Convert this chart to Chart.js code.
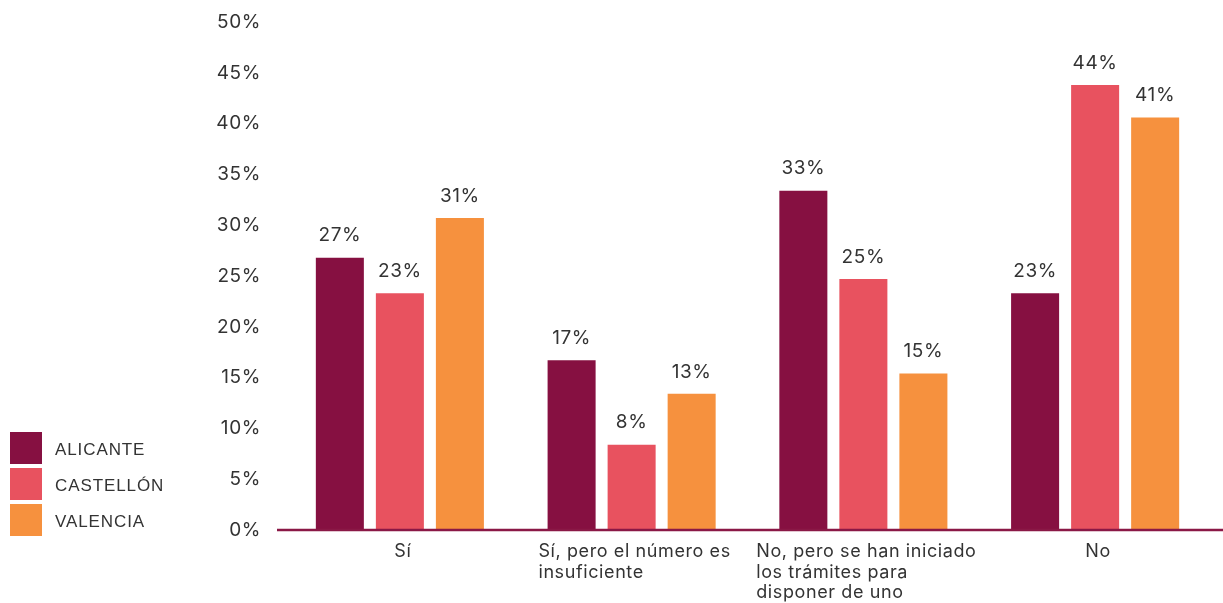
<!DOCTYPE html>
<html lang="es">
<head>
<meta charset="utf-8">
<title>Encuesta por provincia</title>
<script src="https://cdn.jsdelivr.net/npm/chart.js@4.4.1/dist/chart.umd.min.js"></script>
<style>
    html, body { margin: 0; padding: 0; background: #fff; }
    #wrap { position: relative; width: 1223px; height: 603px; }
    #legend { position: absolute; left: 10px; top: 432px; font-family: "Liberation Sans", Arial, sans-serif; font-size: 17px; color: #333; letter-spacing: 0.9px; }
    #legend .item { display: flex; align-items: center; height: 32px; margin-bottom: 4px; }
    #legend .box { width: 32px; height: 32px; margin-right: 13px; }
    #legend .txt { padding-top: 4px; }
</style>
</head>
<body>
<div id="wrap">
    <canvas id="surveyChart" width="1223" height="603"></canvas>
    <div id="legend"></div>
</div>
<script>
const categories = [
    ['Sí'],
    ['Sí, pero el número es', 'insuficiente'],
    ['No, pero se han iniciado', 'los trámites para', 'disponer de uno'],
    ['No']
];
const alicante = [26.8, 16.7, 33.4, 23.3];
const castellon = [23.3, 8.4, 24.7, 43.8];
const valencia = [30.7, 13.4, 15.4, 40.6];
const yTicks = [0, 5, 10, 15, 20, 25, 30, 35, 40, 45, 50];

const FONT = 'Inter, "Open Sans", sans-serif';
const TEXT = '#333333';

// slightly tracked-out text for everything on the canvas
const tracking = {
    id: 'tracking',
    beforeDraw(chart) { chart.ctx.letterSpacing = '0.6px'; }
};

// value labels above each bar
const barLabels = {
    id: 'barLabels',
    afterDatasetsDraw(chart) {
        const ctx = chart.ctx;
        ctx.save();
        ctx.font = '19px ' + FONT;
        ctx.fillStyle = TEXT;
        ctx.textAlign = 'center';
        ctx.textBaseline = 'middle';
        chart.data.datasets.forEach((ds, i) => {
            chart.getDatasetMeta(i).data.forEach((bar, j) => {
                ctx.fillText(Math.round(ds.data[j]) + '%', bar.x, bar.y - 22);
            });
        });
        ctx.restore();
    }
};

// baseline and multi-line category labels (lines left aligned, block centred)
const categoryAxis = {
    id: 'categoryAxis',
    afterDraw(chart) {
        const ctx = chart.ctx;
        const x = chart.scales.x;
        const y0 = chart.scales.y.getPixelForValue(0);
        ctx.save();
        ctx.strokeStyle = '#8a1846';
        ctx.lineWidth = 2.5;
        ctx.beginPath();
        ctx.moveTo(chart.chartArea.left - 7, y0);
        ctx.lineTo(chart.width, y0);
        ctx.stroke();

        ctx.font = '18px ' + FONT;
        ctx.fillStyle = TEXT;
        ctx.textAlign = 'left';
        ctx.textBaseline = 'middle';
        categories.forEach((lines, i) => {
            const cx = x.getPixelForValue(i);
            const w = Math.max(...lines.map(l => ctx.measureText(l).width));
            lines.forEach((line, k) => {
                ctx.fillText(line, cx - w / 2 + 3, y0 + 22 + k * 20.5);
            });
        });
        ctx.restore();
    }
};

const datasets = [
    { label: 'ALICANTE', data: alicante, backgroundColor: '#861041' },
    { label: 'CASTELLÓN', data: castellon, backgroundColor: '#e8525f' },
    { label: 'VALENCIA', data: valencia, backgroundColor: '#f6913e' }
];

new Chart(document.getElementById('surveyChart'), {
    type: 'bar',
    data: {
        labels: categories.map(c => c.join(' ')),
        datasets: datasets.map(d => Object.assign({ barPercentage: 0.8, categoryPercentage: 0.777 }, d))
    },
    options: {
        responsive: false,
        animation: false,
        layout: { padding: { left: 207, right: 12, top: 22, bottom: 0 } },
        plugins: {
            legend: { display: false },
            tooltip: { enabled: false }
        },
        scales: {
            x: {
                grid: { display: false },
                border: { display: false },
                ticks: { display: false },
                afterFit(scale) { scale.height = 73; }
            },
            y: {
                min: 0,
                max: 50,
                afterBuildTicks(scale) { scale.ticks = yTicks.map(v => ({ value: v })); },
                afterFit(scale) {
                    scale.width = 77;
                    scale.paddingTop = 0;
                    scale.paddingBottom = 0;
                },
                grid: { display: false },
                border: { display: false },
                ticks: {
                    padding: 15,
                    color: TEXT,
                    font: { family: FONT, size: 19 },
                    callback: v => v + '%'
                }
            }
        }
    },
    plugins: [tracking, barLabels, categoryAxis]
});

const legend = document.getElementById('legend');
datasets.forEach(d => {
    const item = document.createElement('div');
    item.className = 'item';
    const box = document.createElement('span');
    box.className = 'box';
    box.style.background = d.backgroundColor;
    const txt = document.createElement('span');
    txt.className = 'txt';
    txt.textContent = d.label;
    item.appendChild(box);
    item.appendChild(txt);
    legend.appendChild(item);
});
</script>
</body>
</html>
